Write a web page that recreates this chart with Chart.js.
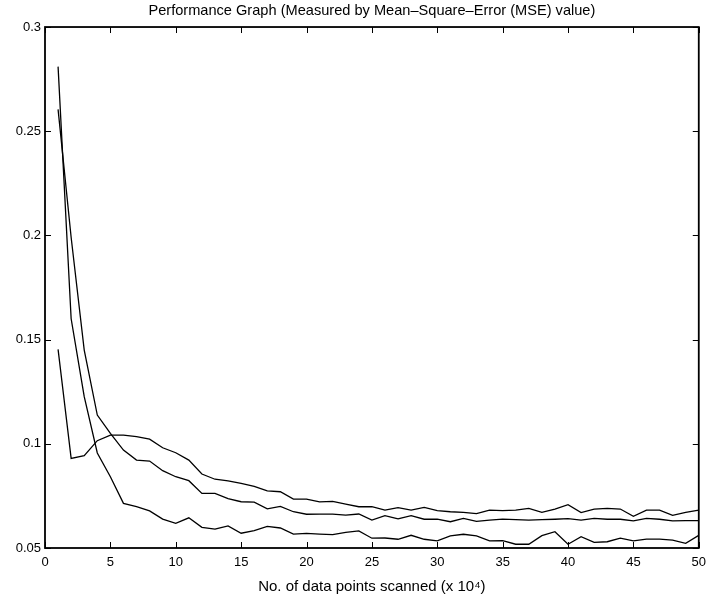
<!DOCTYPE html>
<html>
<head>
<meta charset="utf-8">
<script src="https://cdn.jsdelivr.net/npm/chart.js@4/dist/chart.umd.min.js"></script>
<style>
html,body{margin:0;padding:0;background:#fff;}
canvas{display:block;}
</style>
</head>
<body>
<canvas id="c" width="713" height="596"></canvas>
<script>
const xValues = Array.from({length: 50}, (_, i) => i + 1);

const seriesA = [0.281, 0.160, 0.1226, 0.0956, 0.0842, 0.0714, 0.0698, 0.0678, 0.0639, 0.0618,
  0.0645, 0.0599, 0.0591, 0.0606, 0.0571, 0.0583, 0.0604, 0.0596, 0.0567, 0.0570,
  0.0567, 0.0564, 0.0575, 0.0582, 0.0547, 0.0548, 0.0542, 0.0561, 0.0542, 0.0534,
  0.0558, 0.0566, 0.0558, 0.0534, 0.0535, 0.0518, 0.0518, 0.0559, 0.0578, 0.0518,
  0.0554, 0.0527, 0.0530, 0.0547, 0.0534, 0.0543, 0.0543, 0.0538, 0.0522, 0.0561];

const seriesB = [0.2605, 0.199, 0.145, 0.1138, 0.105, 0.097, 0.0922, 0.0917, 0.0871, 0.0842,
  0.0823, 0.0762, 0.0762, 0.0737, 0.0722, 0.0720, 0.0688, 0.0700, 0.0674, 0.0662,
  0.0663, 0.0663, 0.0658, 0.0663, 0.0634, 0.0655, 0.0640, 0.0655, 0.0638, 0.0639,
  0.0626, 0.0642, 0.0628, 0.0634, 0.0639, 0.0636, 0.0634, 0.0636, 0.0638, 0.0641,
  0.0634, 0.0642, 0.0638, 0.0638, 0.0630, 0.0642, 0.0638, 0.0630, 0.0631, 0.0631];

const seriesC = [0.1453, 0.093, 0.0943, 0.1015, 0.1042, 0.1042, 0.1034, 0.1022, 0.0981, 0.0957,
  0.0922, 0.0855, 0.0830, 0.0822, 0.0810, 0.0796, 0.0774, 0.0770, 0.0735, 0.0735,
  0.0721, 0.0724, 0.0711, 0.0698, 0.0698, 0.0682, 0.0694, 0.0682, 0.0695, 0.0679,
  0.0674, 0.0671, 0.0665, 0.0682, 0.0679, 0.0682, 0.0690, 0.0671, 0.0687, 0.0708,
  0.0670, 0.0687, 0.0690, 0.0687, 0.0652, 0.0682, 0.0682, 0.0657, 0.0671, 0.0682];

const xTickValues = [0, 5, 10, 15, 20, 25, 30, 35, 40, 45, 50];
const yTickValues = [0.05, 0.1, 0.15, 0.2, 0.25, 0.3];

const titleText = 'Performance Graph (Measured by Mean\u2013Square\u2013Error (MSE) value)';
const xLabelText = 'No. of data points scanned (x 10\u2074)';

const FONT = 'Liberation Sans, Arial, Helvetica, sans-serif';

function toPoints(arr) { return arr.map((v, i) => ({x: xValues[i], y: v})); }

const framePlugin = {
  id: 'frame',
  beforeDraw(chart) {
    const ctx = chart.ctx;
    ctx.save();
    ctx.fillStyle = '#fff';
    ctx.fillRect(0, 0, chart.width, chart.height);
    ctx.restore();
  },
  afterDatasetsDraw(chart) {
    const ctx = chart.ctx;
    const a = chart.chartArea;
    const xs = chart.scales.x, ys = chart.scales.y;
    const tl = 6;
    ctx.save();
    ctx.strokeStyle = '#000';
    ctx.lineWidth = 1;
    ctx.beginPath();
    xTickValues.forEach(v => {
      const px = Math.round(xs.getPixelForValue(v)) + 0.5;
      ctx.moveTo(px, a.bottom); ctx.lineTo(px, a.bottom - tl);
      ctx.moveTo(px, a.top); ctx.lineTo(px, a.top + tl);
    });
    yTickValues.forEach(v => {
      const py = Math.round(ys.getPixelForValue(v)) + 0.5;
      ctx.moveTo(a.left, py); ctx.lineTo(a.left + tl, py);
      ctx.moveTo(a.right, py); ctx.lineTo(a.right - tl, py);
    });
    ctx.stroke();
    ctx.lineWidth = 1.8;
    ctx.strokeRect(a.left, a.top, a.right - a.left, a.bottom - a.top);
    ctx.restore();
  }
};

const lineStyle = {
  borderColor: '#000',
  borderWidth: 1.3,
  pointRadius: 0,
  tension: 0,
  fill: false
};

new Chart(document.getElementById('c'), {
  type: 'line',
  data: {
    datasets: [
      Object.assign({label: 'A', data: toPoints(seriesA)}, lineStyle),
      Object.assign({label: 'B', data: toPoints(seriesB)}, lineStyle),
      Object.assign({label: 'C', data: toPoints(seriesC)}, lineStyle)
    ]
  },
  options: {
    responsive: false,
    animation: false,
    devicePixelRatio: 1,
    layout: {padding: {left: 0, right: 11, top: 0, bottom: 0}},
    plugins: {
      legend: {display: false},
      tooltip: {enabled: false},
      title: {
        display: true,
        text: titleText,
        fullSize: false,
        color: '#000',
        font: {family: FONT, size: 14.6, weight: 'normal', lineHeight: 1.2},
        padding: {top: 2.5, bottom: 7}
      }
    },
    scales: {
      x: {
        type: 'linear',
        min: 0, max: 50,
        afterBuildTicks(scale) { scale.ticks = xTickValues.map(v => ({value: v})); },
        afterFit(scale) { scale.height = 48; },
        grid: {display: false, drawTicks: false},
        border: {display: false},
        ticks: {color: '#000', padding: 7, maxRotation: 0, autoSkip: false,
          font: {family: FONT, size: 13}},
        title: {display: true, text: xLabelText, color: '#000', padding: {top: 1, bottom: 0},
          font: {family: FONT, size: 15}}
      },
      y: {
        type: 'linear',
        min: 0.05, max: 0.3,
        afterBuildTicks(scale) { scale.ticks = yTickValues.map(v => ({value: v})); },
        afterFit(scale) { scale.width = 45; },
        grid: {display: false, drawTicks: false},
        border: {display: false},
        ticks: {color: '#000', padding: 4, autoSkip: false,
          font: {family: FONT, size: 13},
          callback: v => String(parseFloat(v.toFixed(2)))}
      }
    }
  },
  plugins: [framePlugin]
});
</script>
</body>
</html>
